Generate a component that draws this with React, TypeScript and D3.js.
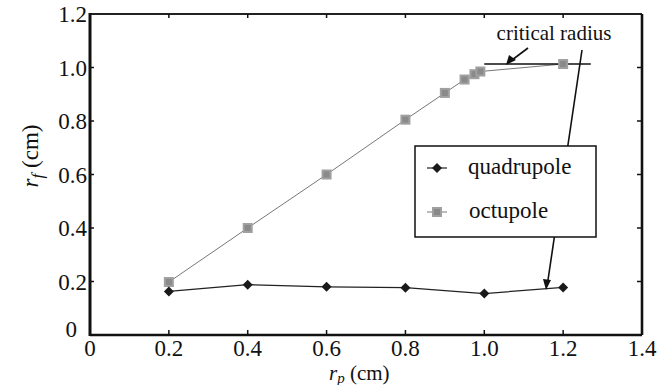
import React from "react";
import * as d3 from "d3";

const quadX = [0.2, 0.4, 0.6, 0.8, 1.0, 1.2];
const quadY = [0.163, 0.188, 0.18, 0.177, 0.155, 0.178];
const octX = [0.2, 0.4, 0.6, 0.8, 0.9, 0.95, 0.975, 0.99, 1.2];
const octY = [0.198, 0.4, 0.6, 0.805, 0.905, 0.955, 0.975, 0.985, 1.013];
const xTicks = [0, 0.2, 0.4, 0.6, 0.8, 1.0, 1.2, 1.4];
const yTicks = [0, 0.2, 0.4, 0.6, 0.8, 1.0, 1.2];
const xTickLabels = ["0", "0.2", "0.4", "0.6", "0.8", "1.0", "1.2", "1.4"];
const yTickLabels = ["0", "0.2", "0.4", "0.6", "0.8", "1.0", "1.2"];
const legendLabels = ["quadrupole", "octupole"];
const annotation = "critical radius";
const critLine = { x: [1.0, 1.27], y: 1.013 };

function T(props: any) {
  const { children, ...rest } = props;
  return (
    <text fill="#111" fontFamily="Liberation Serif" {...rest}>
      {children}
    </text>
  );
}

export default function App() {
  const W = 672, H = 385;
  const L = 90, R = 642, TOP = 14, B = 335;
  const x = d3.scaleLinear().domain([0, 1.4]).range([L, R]);
  const y = d3.scaleLinear().domain([0, 1.2]).range([B, TOP]);
  const qPath = d3.line<number>().x((_, i) => x(quadX[i])).y((d) => y(d))(quadY) || "";
  const oPath = d3.line<number>().x((_, i) => x(octX[i])).y((d) => y(d))(octY) || "";
  const diamond = (cx: number, cy: number, s: number) =>
    `M${cx},${cy - s}L${cx + s},${cy}L${cx},${cy + s}L${cx - s},${cy}Z`;
  return (
    <svg width={W} height={H} style={{ position: "absolute", left: 0, top: 0 }}>
      <rect x={0} y={0} width={W} height={H} fill="#fff" />
      {/* frame */}
      <line x1={L} y1={TOP} x2={R} y2={TOP} stroke="#222" strokeWidth={1.8} />
      <line x1={R} y1={TOP} x2={R} y2={B} stroke="#111" strokeWidth={2.6} />
      <line x1={L} y1={B} x2={R} y2={B} stroke="#111" strokeWidth={2.4} />
      <line x1={L} y1={TOP - 1} x2={L} y2={B + 1} stroke="#111" strokeWidth={3} />
      {/* ticks */}
      {xTicks.slice(1, -1).map((t) => (
        <g key={"xt" + t}>
          <line x1={x(t)} x2={x(t)} y1={B} y2={B - 5} stroke="#111" strokeWidth={1.5} />
          <line x1={x(t)} x2={x(t)} y1={TOP} y2={TOP + 4} stroke="#111" strokeWidth={1.5} />
        </g>
      ))}
      {yTicks.slice(1, -1).map((t) => (
        <g key={"yt" + t}>
          <line x1={R} x2={R - 5} y1={y(t)} y2={y(t)} stroke="#111" strokeWidth={1.5} />
          <line x1={L} x2={L + 4} y1={y(t)} y2={y(t)} stroke="#111" strokeWidth={1.5} />
        </g>
      ))}
      {/* tick labels */}
      {xTicks.map((t, i) => (
        <T key={"xl" + t} x={x(t)} y={356} fontSize={23} textAnchor="middle">
          {xTickLabels[i]}
        </T>
      ))}
      {yTicks.map((t, i) => (
        <T key={"yl" + t} x={t === 0 ? 77 : 87} y={t === 0 ? y(t) + 2 : y(t) + 8} fontSize={23} textAnchor="end">
          {yTickLabels[i]}
        </T>
      ))}
      {/* axis titles */}
      <T x={329} y={380} fontSize={21}>
        <tspan fontStyle="italic">r</tspan>
        <tspan fontStyle="italic" fontSize={15} dy={3}>p</tspan>
        <tspan dy={-3}> (cm)</tspan>
      </T>
      <T transform="translate(38,156) rotate(-90)" fontSize={23} textAnchor="middle">
        <tspan fontStyle="italic">r</tspan>
        <tspan fontStyle="italic" fontSize={17} dy={5}>f</tspan>
        <tspan dy={-5}> (cm)</tspan>
      </T>
      {/* series lines */}
      <path d={oPath} fill="none" stroke="#777" strokeWidth={1} />
      <path d={qPath} fill="none" stroke="#222" strokeWidth={1.3} />
      {/* critical flat line */}
      <line x1={x(critLine.x[0])} x2={x(critLine.x[1])} y1={y(critLine.y)} y2={y(critLine.y)} stroke="#111" strokeWidth={1.4} />
      {/* markers */}
      {octX.map((v, i) => (
        <g key={"o" + i}>
          <rect x={x(v) - 5} y={y(octY[i]) - 5} width={10} height={10} fill="#a0a0a0" />
          <rect x={x(v) - 3} y={y(octY[i]) - 3} width={6} height={6} fill="#8a8a8a" />
        </g>
      ))}
      {quadX.map((v, i) => (
        <path key={"q" + i} d={diamond(x(v), y(quadY[i]), 5)} fill="#1a1a1a" />
      ))}
      {/* annotation */}
      <T x={554} y={40} fontSize={21} textAnchor="middle">{annotation}</T>
      <line x1={528} y1={48} x2={512} y2={60} stroke="#111" strokeWidth={1.6} />
      <path d="M506,65 L509,55 L516,60 Z" fill="#111" />
      <line x1={582} y1={50} x2={548} y2={280} stroke="#111" strokeWidth={1.6} />
      <path d="M546,290 L543,279 L551,280 Z" fill="#111" />
      {/* legend */}
      <rect x={415} y={146} width={181} height={91} fill="#fff" stroke="#111" strokeWidth={1.5} />
      <line x1={427} x2={447} y1={168} y2={168} stroke="#222" strokeWidth={1.2} />
      <path d={diamond(437, 168, 5)} fill="#1a1a1a" />
      <T x={468} y={174} fontSize={23}>{legendLabels[0]}</T>
      <line x1={427} x2={447} y1={212} y2={212} stroke="#777" strokeWidth={1} />
      <rect x={432} y={207} width={10} height={10} fill="#a0a0a0" />
      <rect x={434} y={209} width={6} height={6} fill="#8a8a8a" />
      <T x={469} y={218} fontSize={23}>{legendLabels[1]}</T>
    </svg>
  );
}
